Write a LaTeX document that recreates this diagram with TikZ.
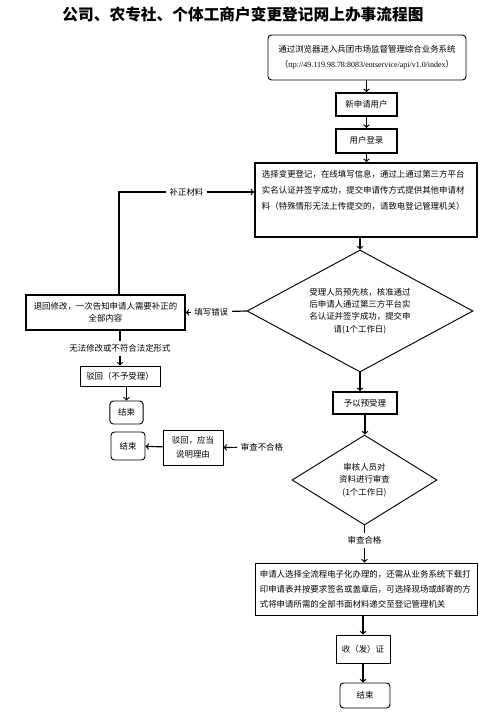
\documentclass[tikz,border=0pt]{standalone}
\usepackage{fontspec}
\newfontfamily\cjk{Noto Sans CJK SC}
\newfontfamily\lserif{Liberation Serif}
\usetikzlibrary{positioning, shapes.geometric}
\tikzset{ThickBox/.style={%
    shape=rectangle,%
    draw=black,%
    line width=1.5pt,%
    inner sep=2pt,%
    align=center,%
    font=\cjk\fontsize{7.2}{10}\selectfont,%
}}
\tikzset{ThinBox/.style={%
    ThickBox,%
    line width=0.8pt,%
}}
\tikzset{EndBox/.style={%
    ThinBox,%
    rounded corners=3pt,%
}}
\tikzset{Decision/.style={%
    shape=diamond,%
    draw=black,%
    line width=0.8pt,%
    aspect=1.8,%
    inner sep=0pt,%
    align=center,%
    font=\cjk\fontsize{7.2}{10.5}\selectfont,%
}}
\tikzset{FlowArrow/.style={%
    ->,%
    line width=1pt,%
}}
\tikzset{EdgeLabel/.style={%
    fill=white,%
    inner sep=3pt,%
    font=\cjk\fontsize{7.2}{10}\selectfont,%
}}

\begin{document}
\begin{tikzpicture}[x=0.03cm, y=-0.03cm]
    \useasboundingbox (0,0) rectangle (500,721);

    \node[font=\cjk\fontsize{13.4}{16}\bfseries] (title) at (243,15) {公司、农专社、个体工商户变更登记网上办事流程图};

    \node[EndBox, minimum width=5.94cm, minimum height=1.35cm, font=\cjk\fontsize{7.2}{12.8}\selectfont] (portal) at (367,57.5)
        {通过浏览器进入兵团市场监督管理综合业务系统\\（{\lserif\fontsize{6.8}{12.8}\selectfont ttp://49.119.98.78:8083/entservice/api/v1.0/index}）};
    \node[ThickBox, minimum width=1.83cm, minimum height=0.69cm] (newuser) at (366.5,104.5) {新申请用户};
    \node[ThickBox, minimum width=1.83cm, minimum height=0.72cm, below=0.33cm of newuser] (login) {用户登录};
    \node[ThickBox, minimum height=2.22cm, text width=6.24cm, inner sep=6pt, align=left,
        font=\cjk\fontsize{7.2}{13.6}\selectfont] (fillinfo) at (366,200)
        {选择变更登记，在线填写信息，通过上通过第三方平台\\实名认证并签字成功，提交申请传方式提供其他申请材\\料（特殊情形无法上传提交的，请致电登记管理机关）\\\strut};

    \node[Decision, minimum width=6.78cm, minimum height=3.66cm] (precheck) at (360,311)
        {受理人员预先核，核准通过\\后申请人通过第三方平台实\\名认证并签字成功，提交申\\请(1个工作日)};
    \node[ThickBox, line width=1.2pt, minimum width=4.77cm, minimum height=1.05cm] (back) at (105.5,312.5)
        {退回修改，一次告知申请人需要补正的\\全部内容};
    \node[ThinBox, minimum width=2.4cm, minimum height=0.6cm] (reject1) at (120,376) {驳回（不予受理）};
    \node[EndBox, minimum width=1cm, minimum height=0.69cm] (end1) at (126.5,412.5) {结束};

    \node[ThickBox, minimum width=1.92cm, minimum height=0.66cm] (accept) at (365,403) {予以预受理};
    \node[Decision, minimum width=4.35cm, minimum height=2.7cm] (review) at (364.5,480)
        {审核人员对\\资料进行审查\\(1个工作日)};
    \node[ThinBox, minimum width=1.8cm, minimum height=1.05cm, font=\cjk\fontsize{7.2}{11.5}\selectfont] (reject2) at (193,447.5)
        {驳回，应当\\说明理由};
    \node[EndBox, minimum width=1.02cm, minimum height=0.84cm] (end2) at (128,446) {结束};
    \node[EdgeLabel] (failtext) at (262,447) {审查不合格};

    \node[ThinBox, minimum height=1.56cm, text width=6.4cm, inner sep=4pt, align=left,
        font=\cjk\fontsize{7.2}{12.8}\selectfont] (final) at (366.5,589)
        {申请人选择全流程电子化办理的，还需从业务系统下载打\\印申请表并按要求签名或盖章后，可选择现场或邮寄的方\\式将申请所需的全部书面材料递交至登记管理机关};
    \node[ThinBox, minimum width=1.62cm, minimum height=0.84cm] (cert) at (363,649) {收（发）证};
    \node[EndBox, minimum width=1.5cm, minimum height=0.75cm] (end3) at (365,695.5) {结束};

    \coordinate (bendtop) at (119,192);

    \draw[FlowArrow] (portal.south -| newuser.north) -- (newuser.north);
    \draw[FlowArrow] (newuser) -- (login);
    \draw[FlowArrow] (login.south -| newuser.south) -- (login.south |- fillinfo.north);
    \draw[FlowArrow] (fillinfo.south -| precheck.north) -- (precheck.north);
    \draw[FlowArrow] (precheck.west) -- node[EdgeLabel, pos=0.58]{填写错误} (back.east);
    \draw[FlowArrow] (back.north -| bendtop) |- node[EdgeLabel, pos=0.75]{补正材料} (fillinfo.west |- bendtop);
    \draw[FlowArrow] (reject1.north |- back.south) -- node[EdgeLabel]{无法修改或不符合法定形式} (reject1.north);
    \draw[FlowArrow] (end1.north |- reject1.south) -- (end1.north);
    \draw[FlowArrow] (precheck.south) -- (precheck.south |- accept.north);
    \draw[FlowArrow] (accept.south) -- (accept.south |- review.north);
    \draw[FlowArrow] (failtext) -- (reject2.east);
    \draw[FlowArrow] (reject2) -- (end2);
    \draw[FlowArrow] (review.south) -- node[EdgeLabel, pos=0.4]{审查合格} (review.south |- final.north);
    \draw[FlowArrow] (final.south -| cert.north) -- (cert.north);
    \draw[FlowArrow] (cert) -- (cert.south |- end3.north);
\end{tikzpicture}
\end{document}
